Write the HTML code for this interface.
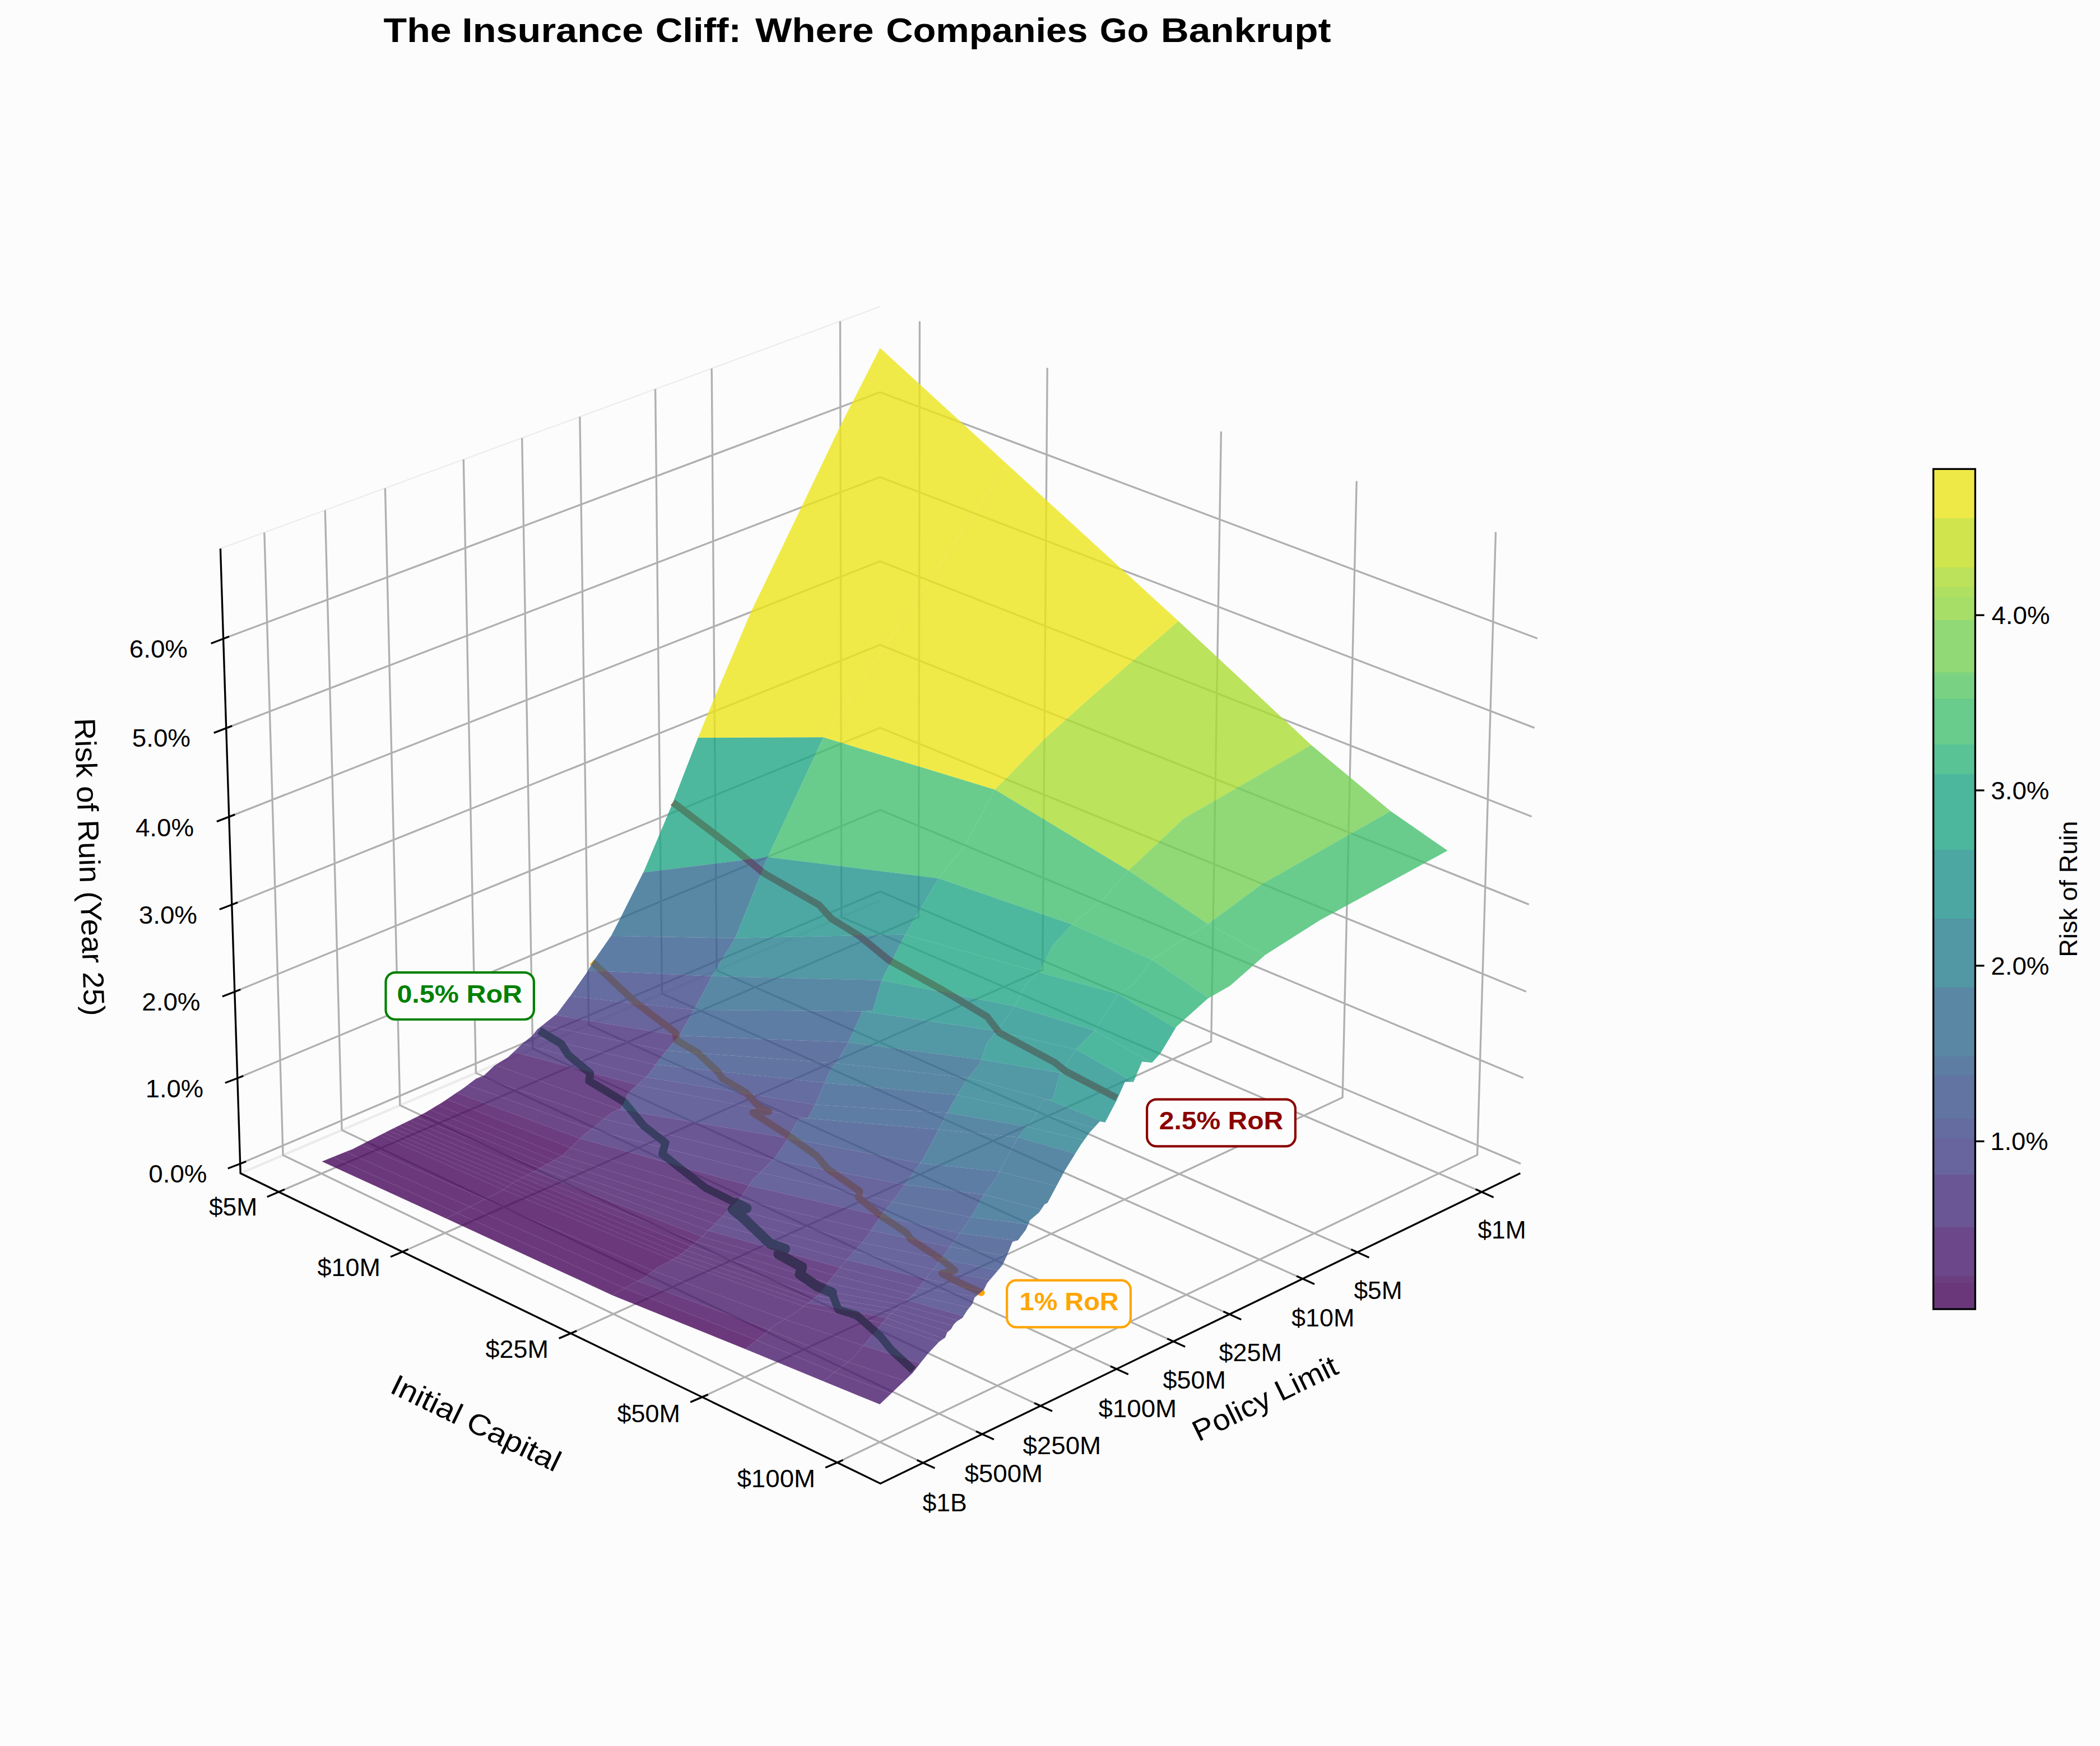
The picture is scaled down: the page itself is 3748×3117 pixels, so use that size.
<!DOCTYPE html>
<html><head><meta charset="utf-8"><title>The Insurance Cliff</title><style>html,body{margin:0;padding:0;background:#fcfcfc}svg{display:block}</style></head><body>
<svg width="3748" height="3117" viewBox="0 0 3748 3117" font-family="'Liberation Sans', sans-serif">
<rect width="3748" height="3117" fill="#fcfcfc"/>
<g stroke="#ececec" stroke-width="2.2" fill="none" stroke-linecap="butt">
<line x1="393.4" y1="979.4" x2="1570.6" y2="547.5"/>
<line x1="429.2" y1="2094.6" x2="1570.8" y2="1607.8" stroke-width="4.5"/>
</g>
<g stroke="#b0b0b0" stroke-width="3.33" fill="none" stroke-linejoin="miter" stroke-linecap="butt"><path d="M497.7 2127.8L1639.6 1637.1L1641.4 573.4"/><path d="M718.1 2234.7L1860.7 1731.3L1869.2 656.8"/><path d="M1018.6 2380.4L2161.7 1859.5L2179.4 770.3"/><path d="M1253.2 2494.1L2396.1 1959.3L2421.2 858.8"/><path d="M1494.2 2611L2636.6 2061.8L2669.5 949.7"/><path d="M1647.5 2611.4L505.1 2062.2L471.8 950.7"/><path d="M1752.9 2560.3L610.1 2017.5L580.2 910.9"/><path d="M1857 2509.8L713.9 1973.2L687.4 871.6"/><path d="M1992.8 2444L849.4 1915.4L827.3 820.2"/><path d="M2094.2 2394.8L950.7 1872.2L931.7 781.9"/><path d="M2194.3 2346.3L1050.8 1829.5L1034.9 744.1"/><path d="M2325 2282.9L1181.5 1773.8L1169.6 694.6"/><path d="M2422.5 2235.6L1279.1 1732.2L1270.2 657.7"/><path d="M2644.6 2127.9L1501.8 1637.2L1499.5 573.6"/><path d="M428.7 2077.5L1570.8 1591.5L2714 2077.4"/><path d="M423.8 1924.7L1570.8 1445.9L2718.9 1924.5"/><path d="M418.8 1770.5L1570.8 1299.2L2723.8 1770.2"/><path d="M413.8 1615L1570.7 1151.3L2728.7 1614.6"/><path d="M408.8 1458.1L1570.7 1002.1L2733.7 1457.7"/><path d="M403.7 1299.9L1570.7 851.8L2738.7 1299.4"/><path d="M398.6 1140.3L1570.7 700.2L2743.8 1139.7"/></g>
<polyline points="962.5,1839.8 1001.9,1863.8 1013.8,1882.9 1053.3,1916 1051.4,1929.5 1114.3,1967.6 1149.5,2010.5 1187.6,2040 1182,2060 1214.3,2086 1260,2121 1313.3,2147.6 1332.4,2157 1307.6,2159 1328.6,2176.2 1374.3,2220 1401,2229.5 1389.5,2239 1431.4,2262 1427.6,2275 1458.1,2296.2 1484.8,2307.6 1496.2,2338.1 1528.6,2347.6 1571.4,2385.7 1590.5,2409.5 1629.8,2446" fill="none" stroke="#008000" stroke-width="14" stroke-linejoin="round" stroke-linecap="butt"/>
<polyline points="1313.3,2147.6 1332.4,2157 1307.6,2159 1328.6,2176.2 1374.3,2220 1401,2229.5 1389.5,2239 1431.4,2262 1427.6,2275 1458.1,2296.2 1484.8,2307.6" fill="none" stroke="#008000" stroke-width="18" stroke-linejoin="round" stroke-linecap="round"/>
<polyline points="1057,1717 1133.3,1788.6 1205.7,1843.8 1207.6,1857.1 1243.8,1878.1 1281.9,1914.3 1289.5,1925.7 1331.4,1950.5 1354.3,1975.2 1372.4,1984 1343.8,1986.5 1404.8,2025.7 1458.1,2063.8 1477.1,2086.7 1534.3,2126.7 1532.4,2138.1 1572.4,2170.5 1618.1,2201 1625.7,2212.4 1682.9,2250.5 1703.8,2268 1681,2273.3 1709.5,2288.6 1751.4,2307.6" fill="none" stroke="#ffa500" stroke-width="12.5" stroke-linejoin="round" stroke-linecap="butt"/>
<circle cx="1751.4" cy="2307.6" r="6.25" fill="#ffa500"/>
<polyline points="1201,1432.5 1316.2,1520 1362.9,1558.6 1461.9,1615.7 1483.8,1640 1533.3,1670.5 1586.7,1714.3 1685.7,1769.5 1761.9,1815.2 1783.8,1843.8 1882.9,1897.1 1901.9,1912.4 1993.3,1960" fill="none" stroke="#ff0000" stroke-width="12.5" stroke-linejoin="round" stroke-linecap="butt"/>
<g fill-opacity="0.8" stroke="none"><polygon points="1570.7,621.3 1500,760 1433,900 1340,1093 1263.8,1272.9 1245.9,1316.7 1245.8,1317 1469.6,1316.3 1797.2,828.5" fill="#ece51b"/><polygon points="1797.2,828.5 1469.6,1316.3 1775.8,1409.7 1776.2,1408.9 1800,1385.2 1866.7,1316.7 1941,1250 2103.3,1108.7" fill="#ece51b"/><polygon points="2103.3,1108.7 1941,1250 1866.7,1316.7 1800,1385.2 1776.2,1408.9 1775.8,1409.7 2014.1,1554.1 2015.2,1552.9 2112.4,1461.4 2340.2,1330" fill="#aadc32"/><polygon points="2340.2,1330 2112.4,1461.4 2015.2,1552.9 2014.1,1554.1 2156.1,1649.4 2158.1,1648.1 2253.3,1577.6 2481.9,1448.1" fill="#75d054"/><polygon points="2481.9,1448.1 2253.3,1577.6 2158.1,1648.1 2156.1,1649.4 2258.2,1704.7 2356.2,1642.4 2583.6,1518.6" fill="#44bf70"/><polygon points="1245.8,1317 1199.8,1435.5 1149.5,1554.8 1148.1,1557.6 1370.2,1530.1 1456.2,1345.2 1468.8,1317.4 1469.6,1316.3" fill="#21a685"/><polygon points="1469.6,1316.3 1468.8,1317.4 1456.2,1345.2 1370.2,1530.1 1675,1568.1 1721,1511 1775.8,1409.7" fill="#44bf70"/><polygon points="1775.8,1409.7 1721,1511 1675,1568.1 1913.3,1650.3 1966.7,1607.6 2014.1,1554.1" fill="#44bf70"/><polygon points="2014.1,1554.1 1966.7,1607.6 1913.3,1650.3 2055.6,1713.2 2056.2,1712.4 2156.1,1649.4" fill="#44bf70"/><polygon points="2156.1,1649.4 2056.2,1712.4 2055.6,1713.2 2157.6,1781.5 2195.2,1760 2258.1,1704.8 2258.2,1704.7" fill="#44bf70"/><polygon points="1148.1,1557.6 1106.7,1640 1091.2,1669.8 1090.6,1670.7 1312.1,1674.8 1312.4,1674.3 1369.7,1531.1 1370.2,1530.1" fill="#306a8e"/><polygon points="1370.2,1530.1 1369.7,1531.1 1312.4,1674.3 1312.1,1674.8 1615.8,1668.5 1674.1,1569.2 1675,1568.1" fill="#20928c"/><polygon points="1675,1568.1 1674.1,1569.2 1615.8,1668.5 1853.7,1735.6 1856.2,1733.3 1879,1687.6 1912.8,1650.7 1913.3,1650.3" fill="#21a685"/><polygon points="1913.3,1650.3 1912.8,1650.7 1879,1687.6 1856.2,1733.3 1853.7,1735.6 1996.1,1774.6 2023.8,1756.2 2055.6,1713.2" fill="#31b57b"/><polygon points="2055.6,1713.2 2023.8,1756.2 1996.1,1774.6 2098.1,1835.5 2100,1832.4 2155.2,1782.9 2157.6,1781.5" fill="#31b57b"/><polygon points="1090.6,1670.7 1059,1716.2 1049.4,1732.5 1270.6,1742.7 1312.1,1674.8" fill="#365d8d"/><polygon points="1312.1,1674.8 1270.6,1742.7 1573.7,1749.8 1614.3,1671 1615.8,1668.5" fill="#277e8e"/><polygon points="1615.8,1668.5 1614.3,1671 1573.7,1749.8 1811.3,1796.5 1831.4,1756.2 1853.7,1735.6" fill="#21a685"/><polygon points="1853.7,1735.6 1831.4,1756.2 1811.3,1796.5 1953.5,1839.8 1995.2,1775.2 1996.1,1774.6" fill="#21a685"/><polygon points="1996.1,1774.6 1995.2,1775.2 1953.5,1839.8 2055.4,1897 2056.2,1897.1 2071.4,1880 2098.1,1835.5" fill="#21a685"/><polygon points="1049.4,1732.5 1047.1,1736.4 1018.6,1776.9 1017.4,1778.5 1238.4,1802.8 1240,1800 1270.5,1742.9 1270.6,1742.7" fill="#3f4889"/><polygon points="1270.6,1742.7 1270.5,1742.9 1240,1800 1238.4,1802.8 1541,1805.5 1558,1803.8 1573.3,1750.5 1573.7,1749.8" fill="#306a8e"/><polygon points="1573.7,1749.8 1573.3,1750.5 1558,1803.8 1541,1805.5 1778.3,1840.8 1781.9,1836.2 1810.5,1798.1 1811.3,1796.5" fill="#20928c"/><polygon points="1811.3,1796.5 1810.5,1798.1 1781.9,1836.2 1778.3,1840.8 1920.5,1873.2 1921,1872.4 1953.3,1840 1953.5,1839.8" fill="#20928c"/><polygon points="1953.5,1839.8 1953.3,1840 1921,1872.4 1920.5,1873.2 2022.4,1931.4 2023,1931.4 2038.3,1895.2 2055.4,1897" fill="#21a685"/><polygon points="1017.4,1778.5 993.6,1810.2 991.2,1812.1 1212.1,1849 1213.3,1847.6 1238.4,1802.8" fill="#433e85"/><polygon points="1238.4,1802.8 1213.3,1847.6 1212.1,1849 1514.3,1860.7 1539,1805.7 1541,1805.5" fill="#365d8d"/><polygon points="1541,1805.5 1539,1805.7 1514.3,1860.7 1751.3,1891.8 1761,1862.9 1778.3,1840.8" fill="#277e8e"/><polygon points="1778.3,1840.8 1761,1862.9 1751.3,1891.8 1893.3,1915.6 1920.5,1873.2" fill="#20928c"/><polygon points="1920.5,1873.2 1893.3,1915.6 1995.4,1959.1 2007.8,1931.4 2022.4,1931.4" fill="#20928c"/><polygon points="991.2,1812.1 968.7,1829.9 1189.7,1875.8 1212.1,1849" fill="#472d7b"/><polygon points="1212.1,1849 1189.7,1875.8 1491.6,1898 1495.2,1893.3 1512.4,1864.8 1514.3,1860.7" fill="#3b528b"/><polygon points="1514.3,1860.7 1512.4,1864.8 1495.2,1893.3 1491.6,1898 1728.4,1924.3 1749.5,1897.1 1751.3,1891.8" fill="#306a8e"/><polygon points="1751.3,1891.8 1749.5,1897.1 1728.4,1924.3 1870.3,1963.3 1879,1961.9 1890.5,1920 1893.3,1915.6" fill="#277e8e"/><polygon points="1893.3,1915.6 1890.5,1920 1879,1961.9 1870.3,1963.3 1972.2,2003.8 1972.4,2003.8 1993.3,1963.8 1995.4,1959.1" fill="#20928c"/><polygon points="968.7,1829.9 959,1837.6 949.5,1849.5 949.4,1849.6 1170.2,1900.7 1182.9,1883.8 1189.7,1875.8" fill="#472d7b"/><polygon points="1189.7,1875.8 1182.9,1883.8 1170.2,1900.7 1472,1932.9 1482,1910.5 1491.6,1898" fill="#3b528b"/><polygon points="1491.6,1898 1482,1910.5 1472,1932.9 1708.6,1955.1 1722.9,1931.4 1728.4,1924.3" fill="#306a8e"/><polygon points="1728.4,1924.3 1722.9,1931.4 1708.6,1955.1 1850.4,1985.7 1860,1965 1870.3,1963.3" fill="#277e8e"/><polygon points="1870.3,1963.3 1860,1965 1850.4,1985.7 1952.5,2013.3 1962.9,2001.9 1972.2,2003.8" fill="#277e8e"/><polygon points="949.4,1849.6 932.9,1862.6 932.2,1863.3 1153.1,1923 1154.3,1921.9 1170.2,1900.7" fill="#472d7b"/><polygon points="1170.2,1900.7 1154.3,1921.9 1153.1,1923 1454.7,1972.3 1455.2,1971.4 1466.7,1944.8 1472,1932.9" fill="#3f4889"/><polygon points="1472,1932.9 1466.7,1944.8 1455.2,1971.4 1454.7,1972.3 1691.1,1986.6 1700,1969.5 1708.6,1955.1" fill="#365d8d"/><polygon points="1708.6,1955.1 1700,1969.5 1691.1,1986.6 1832.8,2011.3 1845.8,1995.7 1850.4,1985.7" fill="#277e8e"/><polygon points="1850.4,1985.7 1845.8,1995.7 1832.8,2011.3 1934.9,2035.4 1943.8,2022.9 1952.5,2013.3" fill="#277e8e"/><polygon points="932.2,1863.3 916.8,1877.9 1137.6,1936.7 1153.1,1923" fill="#472d7b"/><polygon points="1153.1,1923 1137.6,1936.7 1439.2,1996.3 1442,1996 1454.7,1972.3" fill="#433e85"/><polygon points="1454.7,1972.3 1442,1996 1439.2,1996.3 1675.4,2016.5 1688.6,1991.4 1691.1,1986.6" fill="#365d8d"/><polygon points="1691.1,1986.6 1688.6,1991.4 1675.4,2016.5 1817.1,2030.3 1832.8,2011.3" fill="#306a8e"/><polygon points="1832.8,2011.3 1817.1,2030.3 1919.1,2059.6 1928.6,2044.2 1934.9,2035.4" fill="#277e8e"/><polygon points="916.8,1877.9 906.7,1887.6 884.1,1901.2 1105,1980.6 1108.6,1979 1122,1950.5 1137.6,1936.7" fill="#481a6c"/><polygon points="1137.6,1936.7 1122,1950.5 1108.6,1979 1105,1980.6 1406.2,2031.8 1425,1998 1439.2,1996.3" fill="#433e85"/><polygon points="1439.2,1996.3 1425,1998 1406.2,2031.8 1642.2,2076.6 1648.6,2067.6 1675.4,2016.5" fill="#3b528b"/><polygon points="1675.4,2016.5 1648.6,2067.6 1642.2,2076.6 1783.7,2091.6 1816.2,2031.4 1817.1,2030.3" fill="#306a8e"/><polygon points="1817.1,2030.3 1816.2,2031.4 1783.7,2091.6 1885.5,2117.6 1900,2090.5 1919.1,2059.6" fill="#306a8e"/><polygon points="884.1,1901.2 882.9,1901.9 863.8,1920 857.4,1922.6 1078.1,1997.6 1091.4,1986.7 1105,1980.6" fill="#481a6c"/><polygon points="1105,1980.6 1091.4,1986.7 1078.1,1997.6 1379.3,2070.6 1384,2066 1403.8,2036.2 1406.2,2031.8" fill="#472d7b"/><polygon points="1406.2,2031.8 1403.8,2036.2 1384,2066 1379.3,2070.6 1615,2114.9 1642.2,2076.6" fill="#3f4889"/><polygon points="1642.2,2076.6 1615,2114.9 1756.4,2132.7 1778.1,2101.9 1783.7,2091.6" fill="#365d8d"/><polygon points="1783.7,2091.6 1778.1,2101.9 1756.4,2132.7 1858.1,2159.3 1864.3,2150 1869.5,2147.6 1885.5,2117.6" fill="#306a8e"/><polygon points="857.4,1922.6 849.5,1925.7 834.6,1936.9 1055.4,2016.1 1059,2013.3 1078.1,1997.6" fill="#481a6c"/><polygon points="1078.1,1997.6 1059,2013.3 1055.4,2016.1 1356.4,2093.2 1379.3,2070.6" fill="#472d7b"/><polygon points="1379.3,2070.6 1356.4,2093.2 1592,2145.4 1606.7,2126.7 1615,2114.9" fill="#433e85"/><polygon points="1615,2114.9 1606.7,2126.7 1592,2145.4 1733.2,2172.9 1755.2,2134.3 1756.4,2132.7" fill="#3b528b"/><polygon points="1756.4,2132.7 1755.2,2134.3 1733.2,2172.9 1835,2185.9 1838.1,2178.6 1854.8,2164.3 1858.1,2159.3" fill="#306a8e"/><polygon points="834.6,1936.9 826.7,1942.9 814.9,1950.8 1035.6,2032.6 1043.8,2024.8 1055.4,2016.1" fill="#481a6c"/><polygon points="1055.4,2016.1 1043.8,2024.8 1035.6,2032.6 1336.6,2116.2 1343.8,2105.7 1356.4,2093.2" fill="#472d7b"/><polygon points="1356.4,2093.2 1343.8,2105.7 1336.6,2116.2 1572.1,2171 1572.4,2170.5 1592,2145.4" fill="#433e85"/><polygon points="1592,2145.4 1572.4,2170.5 1572.1,2171 1713.1,2201.8 1732.4,2174.3 1733.2,2172.9" fill="#3b528b"/><polygon points="1733.2,2172.9 1732.4,2174.3 1713.1,2201.8 1814.8,2214.8 1816.7,2214.3 1831,2195.2 1835,2185.9" fill="#365d8d"/><polygon points="814.9,1950.8 797.5,1962.5 1018.2,2049.2 1035.6,2032.6" fill="#470e61"/><polygon points="1035.6,2032.6 1018.2,2049.2 1319.1,2140.2 1322.9,2136.2 1336.6,2116.2" fill="#481a6c"/><polygon points="1336.6,2116.2 1322.9,2136.2 1319.1,2140.2 1554.5,2196.8 1572.1,2171" fill="#472d7b"/><polygon points="1572.1,2171 1554.5,2196.8 1695.4,2226.1 1705.7,2212.4 1713.1,2201.8" fill="#3f4889"/><polygon points="1713.1,2201.8 1705.7,2212.4 1695.4,2226.1 1797.1,2241.7 1797.6,2240.5 1807.1,2216.7 1814.8,2214.8" fill="#3b528b"/><polygon points="797.5,1962.5 788.6,1968.4 781.8,1972.5 1002.6,2063.6 1003.8,2062.9 1018.2,2049.2" fill="#46075a"/><polygon points="1018.2,2049.2 1003.8,2062.9 1002.6,2063.6 1303.4,2156.6 1319.1,2140.2" fill="#481a6c"/><polygon points="1319.1,2140.2 1303.4,2156.6 1538.7,2218.2 1543.8,2212.4 1554.5,2196.8" fill="#472d7b"/><polygon points="1554.5,2196.8 1543.8,2212.4 1538.7,2218.2 1679.6,2247.2 1682.9,2242.9 1695.4,2226.1" fill="#433e85"/><polygon points="1695.4,2226.1 1682.9,2242.9 1679.6,2247.2 1781.1,2268 1789.3,2258.3 1797.1,2241.7" fill="#3b528b"/><polygon points="781.8,1972.5 767.7,1981 988.3,2071.5 1002.6,2063.6" fill="#46075a"/><polygon points="1002.6,2063.6 988.3,2071.5 1289.2,2171.5 1303.4,2156.6" fill="#481a6c"/><polygon points="1303.4,2156.6 1289.2,2171.5 1524.4,2234.2 1538.7,2218.2" fill="#472d7b"/><polygon points="1538.7,2218.2 1524.4,2234.2 1665.2,2265.9 1679.6,2247.2" fill="#433e85"/><polygon points="1679.6,2247.2 1665.2,2265.9 1766.7,2284.8 1776.2,2273.8 1781.1,2268" fill="#3f4889"/><polygon points="767.7,1981 758.1,1986.7 754.7,1988.4 975.3,2078.8 988.3,2071.5" fill="#46075a"/><polygon points="988.3,2071.5 975.3,2078.8 1276.2,2184.8 1282.9,2178.1 1289.2,2171.5" fill="#481a6c"/><polygon points="1289.2,2171.5 1282.9,2178.1 1276.2,2184.8 1511.3,2249 1513.3,2246.7 1524.4,2234.2" fill="#472d7b"/><polygon points="1524.4,2234.2 1513.3,2246.7 1511.3,2249 1652.1,2283 1665.2,2265.9" fill="#433e85"/><polygon points="1665.2,2265.9 1652.1,2283 1753.6,2304.5 1756,2302.4 1761.9,2290.5 1766.7,2284.8" fill="#433e85"/><polygon points="754.7,1988.4 742.7,1994.4 963.4,2085.5 975.3,2078.8" fill="#46075a"/><polygon points="975.3,2078.8 963.4,2085.5 1264.2,2196.8 1276.2,2184.8" fill="#481a6c"/><polygon points="1276.2,2184.8 1264.2,2196.8 1499.3,2263 1511.3,2249" fill="#472d7b"/><polygon points="1511.3,2249 1499.3,2263 1640.1,2298.8 1652.1,2283" fill="#472d7b"/><polygon points="1652.1,2283 1640.1,2298.8 1741.5,2314.8 1753.6,2304.5" fill="#433e85"/><polygon points="742.7,1994.4 731.6,1999.9 952.3,2091.6 956.2,2089.5 963.4,2085.5" fill="#46075a"/><polygon points="963.4,2085.5 956.2,2089.5 952.3,2091.6 1253.2,2207.8 1264.2,2196.8" fill="#481a6c"/><polygon points="1264.2,2196.8 1253.2,2207.8 1488.2,2276.4 1490.5,2273.3 1499.3,2263" fill="#481a6c"/><polygon points="1499.3,2263 1490.5,2273.3 1488.2,2276.4 1628.9,2311.5 1633.3,2307.6 1640.1,2298.8" fill="#472d7b"/><polygon points="1640.1,2298.8 1633.3,2307.6 1628.9,2311.5 1730.3,2334.2 1735.7,2327.4 1739.3,2316.7 1741.5,2314.8" fill="#433e85"/><polygon points="731.6,1999.9 727.6,2001.9 721.3,2005 941.9,2097.3 952.3,2091.6" fill="#46075a"/><polygon points="952.3,2091.6 941.9,2097.3 1242.8,2217 1248.6,2212.4 1253.2,2207.8" fill="#470e61"/><polygon points="1253.2,2207.8 1248.6,2212.4 1242.8,2217 1477.8,2290.2 1488.2,2276.4" fill="#481a6c"/><polygon points="1488.2,2276.4 1477.8,2290.2 1618.4,2320.7 1628.9,2311.5" fill="#472d7b"/><polygon points="1628.9,2311.5 1618.4,2320.7 1719.8,2349.4 1726.2,2339.3 1730.3,2334.2" fill="#433e85"/><polygon points="721.3,2005 711.6,2009.7 932.2,2102.6 941.9,2097.3" fill="#46075a"/><polygon points="941.9,2097.3 932.2,2102.6 1233.1,2224.8 1242.8,2217" fill="#470e61"/><polygon points="1242.8,2217 1233.1,2224.8 1468.1,2303.2 1477.8,2290.2" fill="#481a6c"/><polygon points="1477.8,2290.2 1468.1,2303.2 1608.7,2329.4 1618.4,2320.7" fill="#472d7b"/><polygon points="1618.4,2320.7 1608.7,2329.4 1710,2357.6 1717.9,2352.4 1719.8,2349.4" fill="#472d7b"/><polygon points="711.6,2009.7 702.5,2014.2 923.1,2107.6 932.2,2102.6" fill="#46075a"/><polygon points="932.2,2102.6 923.1,2107.6 1224,2232.1 1233.1,2224.8" fill="#46075a"/><polygon points="1233.1,2224.8 1224,2232.1 1458.9,2313.6 1461.9,2311.4 1468.1,2303.2" fill="#481a6c"/><polygon points="1468.1,2303.2 1461.9,2311.4 1458.9,2313.6 1599.5,2337.5 1608.7,2329.4" fill="#472d7b"/><polygon points="1608.7,2329.4 1599.5,2337.5 1700.8,2367 1702.4,2364.3 1707.1,2359.5 1710,2357.6" fill="#472d7b"/><polygon points="702.5,2014.2 701.9,2014.5 693.9,2018.6 914.5,2112.3 923.1,2107.6" fill="#46075a"/><polygon points="923.1,2107.6 914.5,2112.3 1215.4,2239 1224,2232.1" fill="#46075a"/><polygon points="1224,2232.1 1215.4,2239 1450.3,2320.1 1458.9,2313.6" fill="#481a6c"/><polygon points="1458.9,2313.6 1450.3,2320.1 1590.9,2345.1 1599.5,2337.5" fill="#472d7b"/><polygon points="1599.5,2337.5 1590.9,2345.1 1692.2,2377.2 1697.6,2372.6 1700.8,2367" fill="#472d7b"/><polygon points="693.9,2018.6 685.8,2022.7 906.4,2118.3 914.3,2112.4 914.5,2112.3" fill="#46075a"/><polygon points="914.5,2112.3 914.3,2112.4 906.4,2118.3 1207.3,2244.7 1210.5,2242.9 1215.4,2239" fill="#46075a"/><polygon points="1215.4,2239 1210.5,2242.9 1207.3,2244.7 1442.1,2326.2 1450.3,2320.1" fill="#481a6c"/><polygon points="1450.3,2320.1 1442.1,2326.2 1582.7,2352.7 1583.8,2351.4 1590.9,2345.1" fill="#472d7b"/><polygon points="1590.9,2345.1 1583.8,2351.4 1582.7,2352.7 1683.9,2390.1 1686.9,2388.1 1690.5,2378.6 1692.2,2377.2" fill="#472d7b"/><polygon points="685.8,2022.7 678.1,2026.6 898.7,2123.9 899,2123.8 906.4,2118.3" fill="#46075a"/><polygon points="906.4,2118.3 899,2123.8 898.7,2123.9 1199.5,2248.9 1207.3,2244.7" fill="#46075a"/><polygon points="1207.3,2244.7 1199.5,2248.9 1434.4,2332.1 1442.1,2326.2" fill="#481a6c"/><polygon points="1442.1,2326.2 1434.4,2332.1 1574.9,2362 1582.7,2352.7" fill="#481a6c"/><polygon points="1582.7,2352.7 1574.9,2362 1676.2,2395.2 1676.2,2395.2 1683.9,2390.1" fill="#472d7b"/><polygon points="678.1,2026.6 670.5,2030.5 644.4,2043.7 865,2140.9 898.7,2123.9" fill="#46075a"/><polygon points="898.7,2123.9 865,2140.9 1165.8,2268.8 1172.4,2263.8 1199.5,2248.9" fill="#46075a"/><polygon points="1199.5,2248.9 1172.4,2263.8 1165.8,2268.8 1400.6,2355.3 1416.2,2345.7 1434.4,2332.1" fill="#481a6c"/><polygon points="1434.4,2332.1 1416.2,2345.7 1400.6,2355.3 1541.1,2402.3 1543.8,2399 1574.9,2362" fill="#481a6c"/><polygon points="1574.9,2362 1543.8,2399 1541.1,2402.3 1642.2,2434.1 1656,2416.7 1676.2,2395.2" fill="#472d7b"/><polygon points="644.4,2043.7 629.3,2051.4 617.1,2056.3 838.2,2154.2 861,2142.9 865,2140.9" fill="#46075a"/><polygon points="865,2140.9 861,2142.9 838.2,2154.2 1138.1,2287.1 1149.5,2281 1165.8,2268.8" fill="#46075a"/><polygon points="1165.8,2268.8 1149.5,2281 1138.1,2287.1 1373.1,2373.9 1381.9,2366.7 1400.6,2355.3" fill="#481a6c"/><polygon points="1400.6,2355.3 1381.9,2366.7 1373.1,2373.9 1513.3,2431.5 1522.9,2424 1541.1,2402.3" fill="#481a6c"/><polygon points="1541.1,2402.3 1522.9,2424 1513.3,2431.5 1614.3,2464.9 1628.6,2451.2 1642.2,2434.1" fill="#481a6c"/><polygon points="617.1,2056.3 594.3,2065.5 815.7,2165.5 838.2,2154.2" fill="#46075a"/><polygon points="838.2,2154.2 815.7,2165.5 1114.6,2299.7 1138.1,2287.1" fill="#46075a"/><polygon points="1138.1,2287.1 1114.6,2299.7 1350.3,2392.5 1373.1,2373.9" fill="#470e61"/><polygon points="1373.1,2373.9 1350.3,2392.5 1489.8,2449.8 1513.3,2431.5" fill="#481a6c"/><polygon points="1513.3,2431.5 1489.8,2449.8 1590.7,2487.5 1614.3,2464.9" fill="#481a6c"/><polygon points="594.3,2065.5 574.5,2073.4 796.2,2175.2 815.7,2165.5" fill="#46075a"/><polygon points="815.7,2165.5 796.2,2175.2 1093.3,2312.4 1100,2307.6 1114.6,2299.7" fill="#46075a"/><polygon points="1114.6,2299.7 1100,2307.6 1093.3,2312.4 1330.5,2408.6 1350.3,2392.5" fill="#46075a"/><polygon points="1350.3,2392.5 1330.5,2408.6 1469.4,2465.7 1489.8,2449.8" fill="#481a6c"/><polygon points="1489.8,2449.8 1469.4,2465.7 1570.2,2507.1 1590.7,2487.5" fill="#481a6c"/></g>
<g stroke="#000" stroke-width="3.33" fill="none" stroke-linecap="butt" stroke-linejoin="miter"><path d="M393.4 979.4L429.2 2094.6L1571.3 2648.4L2713.4 2094.5"/><path d="M406.7 2086L439.2 2073.5"/><path d="M401.8 1933.2L434.3 1920.7"/><path d="M396.8 1779L429.3 1766.5"/><path d="M391.8 1623.5L424.3 1611"/><path d="M386.8 1466.6L419.3 1454.1"/><path d="M381.7 1308.4L414.2 1295.9"/><path d="M376.6 1148.8L409.1 1136.3"/><path d="M476.7 2136.8L508.2 2123.3"/><path d="M697.1 2243.7L728.6 2230.2"/><path d="M997.6 2389.4L1029.1 2375.9"/><path d="M1232.2 2503.1L1263.7 2489.6"/><path d="M1473.2 2620L1504.7 2606.5"/><path d="M1636.5 2606.4L1668.5 2620.9"/><path d="M1741.9 2555.3L1773.9 2569.8"/><path d="M1846 2504.8L1878 2519.3"/><path d="M1981.8 2439L2013.8 2453.5"/><path d="M2083.2 2389.8L2115.2 2404.3"/><path d="M2183.3 2341.3L2215.3 2355.8"/><path d="M2314 2277.9L2346 2292.4"/><path d="M2411.5 2230.6L2443.5 2245.1"/><path d="M2633.6 2122.9L2665.6 2137.4"/></g>
<text x="684.5" y="75" font-size="61.2" textLength="121.2" lengthAdjust="spacingAndGlyphs" fill="#000" font-weight="bold">The</text>
<text x="824.6" y="75" font-size="61.2" textLength="323.7" lengthAdjust="spacingAndGlyphs" fill="#000" font-weight="bold">Insurance</text>
<text x="1169.8" y="75" font-size="61.2" textLength="153" lengthAdjust="spacingAndGlyphs" fill="#000" font-weight="bold">Cliff:</text>
<text x="1347.9" y="75" font-size="61.2" textLength="211.7" lengthAdjust="spacingAndGlyphs" fill="#000" font-weight="bold">Where</text>
<text x="1581.3" y="75" font-size="61.2" textLength="360" lengthAdjust="spacingAndGlyphs" fill="#000" font-weight="bold">Companies</text>
<text x="1962.8" y="75" font-size="61.2" textLength="87.3" lengthAdjust="spacingAndGlyphs" fill="#000" font-weight="bold">Go</text>
<text x="2071.7" y="75" font-size="61.2" textLength="304" lengthAdjust="spacingAndGlyphs" fill="#000" font-weight="bold">Bankrupt</text>
<text x="230.8" y="1174.2" font-size="43.8" textLength="104.2" lengthAdjust="spacingAndGlyphs" fill="#000">6.0%</text>
<text x="235.8" y="1332.7" font-size="43.8" textLength="104.2" lengthAdjust="spacingAndGlyphs" fill="#000">5.0%</text>
<text x="241.9" y="1492.7" font-size="43.8" textLength="104.1" lengthAdjust="spacingAndGlyphs" fill="#000">4.0%</text>
<text x="247.8" y="1648.7" font-size="43.8" textLength="104.2" lengthAdjust="spacingAndGlyphs" fill="#000">3.0%</text>
<text x="253.3" y="1804.2" font-size="43.8" textLength="104.2" lengthAdjust="spacingAndGlyphs" fill="#000">2.0%</text>
<text x="259.7" y="1958.7" font-size="43.8" textLength="103.3" lengthAdjust="spacingAndGlyphs" fill="#000">1.0%</text>
<text x="265.3" y="2111.2" font-size="43.8" textLength="104.2" lengthAdjust="spacingAndGlyphs" fill="#000">0.0%</text>
<text x="372.9" y="2170.2" font-size="43.8" textLength="86.3" lengthAdjust="spacingAndGlyphs" fill="#000">$5M</text>
<text x="566.4" y="2277.7" font-size="43.8" textLength="112.5" lengthAdjust="spacingAndGlyphs" fill="#000">$10M</text>
<text x="866.4" y="2423.7" font-size="43.8" textLength="112.5" lengthAdjust="spacingAndGlyphs" fill="#000">$25M</text>
<text x="1101.4" y="2538.7" font-size="43.8" textLength="112.5" lengthAdjust="spacingAndGlyphs" fill="#000">$50M</text>
<text x="1315.4" y="2655.2" font-size="43.8" textLength="139.8" lengthAdjust="spacingAndGlyphs" fill="#000">$100M</text>
<text x="1646.4" y="2697.7" font-size="43.8" textLength="79.3" lengthAdjust="spacingAndGlyphs" fill="#000">$1B</text>
<text x="1721.4" y="2646.2" font-size="43.8" textLength="139.8" lengthAdjust="spacingAndGlyphs" fill="#000">$500M</text>
<text x="1825.4" y="2596.2" font-size="43.8" textLength="139.8" lengthAdjust="spacingAndGlyphs" fill="#000">$250M</text>
<text x="1960.4" y="2530.2" font-size="43.8" textLength="139.8" lengthAdjust="spacingAndGlyphs" fill="#000">$100M</text>
<text x="2075.4" y="2478.7" font-size="43.8" textLength="112.5" lengthAdjust="spacingAndGlyphs" fill="#000">$50M</text>
<text x="2175.4" y="2430.2" font-size="43.8" textLength="112.5" lengthAdjust="spacingAndGlyphs" fill="#000">$25M</text>
<text x="2304.9" y="2367.7" font-size="43.8" textLength="112.5" lengthAdjust="spacingAndGlyphs" fill="#000">$10M</text>
<text x="2416.4" y="2319.2" font-size="43.8" textLength="86.3" lengthAdjust="spacingAndGlyphs" fill="#000">$5M</text>
<text x="2637.4" y="2211.2" font-size="43.8" textLength="86.3" lengthAdjust="spacingAndGlyphs" fill="#000">$1M</text>
<text x="676.9" y="2557.2" font-size="52.5" textLength="329.5" lengthAdjust="spacingAndGlyphs" transform="rotate(25.8 842.7 2557.2)">Initial Capital</text>
<text x="2124.6" y="2511.6" font-size="52.5" textLength="281.3" lengthAdjust="spacingAndGlyphs" transform="rotate(-26 2267.5 2511.6)">Policy Limit</text>
<text x="-124.5" y="1548.7" font-size="52.5" textLength="531.9" lengthAdjust="spacingAndGlyphs" transform="rotate(88.13 141.9 1548.7)">Risk of Ruin (Year 25)</text>
<rect x="688.5" y="1736.1" width="264.4" height="83.9" rx="17" ry="17" fill="#fdfdfd" stroke="#008000" stroke-width="4.17"/><text x="708.4" y="1790" font-size="43.8" textLength="223.7" lengthAdjust="spacingAndGlyphs" fill="#008000" font-weight="bold">0.5% RoR</text>
<rect x="1797.1" y="2285.6" width="220.8" height="83.8" rx="17" ry="17" fill="#fdfdfd" stroke="#ffa500" stroke-width="4.17"/><text x="1819.6" y="2339" font-size="43.8" textLength="177" lengthAdjust="spacingAndGlyphs" fill="#ffa500" font-weight="bold">1% RoR</text>
<rect x="2047.1" y="1962.6" width="264.8" height="83.8" rx="17" ry="17" fill="#fdfdfd" stroke="#8b0000" stroke-width="4.17"/><text x="2068.8" y="2016" font-size="43.8" textLength="221.5" lengthAdjust="spacingAndGlyphs" fill="#8b0000" font-weight="bold">2.5% RoR</text>
<g shape-rendering="crispEdges"><rect x="3450.6" y="837.3" width="74.7" height="88.1" fill="#efe948"/><rect x="3450.6" y="924.8" width="74.7" height="88.6" fill="#d0e54d"/><rect x="3450.6" y="1012.8" width="74.7" height="35.4" fill="#bbe25a"/><rect x="3450.6" y="1047.6" width="74.7" height="18.9" fill="#b0e061"/><rect x="3450.6" y="1065.9" width="74.7" height="41.3" fill="#a6de68"/><rect x="3450.6" y="1106.6" width="74.7" height="94.2" fill="#90d976"/><rect x="3450.6" y="1200.2" width="74.7" height="6.4" fill="#7fd47f"/><rect x="3450.6" y="1206" width="74.7" height="41.2" fill="#79d283"/><rect x="3450.6" y="1246.6" width="74.7" height="82.6" fill="#69cb8c"/><rect x="3450.6" y="1328.6" width="74.7" height="54.1" fill="#59c395"/><rect x="3450.6" y="1382.1" width="74.7" height="135.1" fill="#4db79d"/><rect x="3450.6" y="1516.6" width="74.7" height="123.8" fill="#4ca7a3"/><rect x="3450.6" y="1639.8" width="74.7" height="123.4" fill="#5297a4"/><rect x="3450.6" y="1762.6" width="74.7" height="123.8" fill="#5987a4"/><rect x="3450.6" y="1885.8" width="74.7" height="35" fill="#5d7da3"/><rect x="3450.6" y="1920.2" width="74.7" height="77.2" fill="#6174a2"/><rect x="3450.6" y="1996.8" width="74.7" height="35.6" fill="#656ca0"/><rect x="3450.6" y="2031.8" width="74.7" height="65.9" fill="#68649d"/><rect x="3450.6" y="2097.1" width="74.7" height="94.2" fill="#6b5695"/><rect x="3450.6" y="2190.7" width="74.7" height="88" fill="#6c4789"/><rect x="3450.6" y="2278.1" width="74.7" height="12.6" fill="#6b3e80"/><rect x="3450.6" y="2290.1" width="74.7" height="47.6" fill="#6a387a"/></g>
<rect x="3450.6" y="837.3" width="74.7" height="1499.8" fill="none" stroke="#000" stroke-width="3.33"/>
<path d="M3526.9 1098.2h14.6" stroke="#000" stroke-width="3.33"/>
<text x="3554.4" y="1113.9" font-size="43.8" textLength="104.1" lengthAdjust="spacingAndGlyphs" fill="#000">4.0%</text>
<path d="M3526.9 1411h14.6" stroke="#000" stroke-width="3.33"/>
<text x="3553.3" y="1426.7" font-size="43.8" textLength="104.2" lengthAdjust="spacingAndGlyphs" fill="#000">3.0%</text>
<path d="M3526.9 1724h14.6" stroke="#000" stroke-width="3.33"/>
<text x="3553.3" y="1739.7" font-size="43.8" textLength="104.2" lengthAdjust="spacingAndGlyphs" fill="#000">2.0%</text>
<path d="M3526.9 2037.5h14.6" stroke="#000" stroke-width="3.33"/>
<text x="3552.2" y="2053.2" font-size="43.8" textLength="103.3" lengthAdjust="spacingAndGlyphs" fill="#000">1.0%</text>
<text x="3585.1" y="1587" font-size="43.8" textLength="243" lengthAdjust="spacingAndGlyphs" transform="rotate(-90 3706.8 1587)">Risk of Ruin</text>
</svg>
</body></html>
